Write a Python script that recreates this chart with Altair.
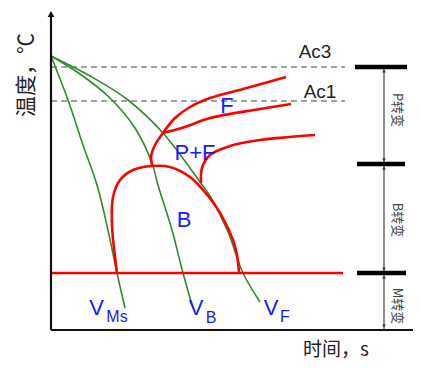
import altair as alt
import pandas as pd

# ---- data (time, temperature) in schematic plot units ----
# cooling curves
VMS_t = [51, 68, 83, 97, 108, 117, 125]
VMS_T = [313, 269, 224, 184, 139, 96, 61]
VB_t = [51, 80, 110, 135, 152, 158, 172, 183, 193]
VB_T = [313, 295, 271, 241, 206, 184, 139, 96, 61]
VF_t = [51, 90, 128, 163, 200, 210, 228, 243, 260]
VF_T = [313, 293, 269, 236, 187, 173, 137, 96, 67]

# transformation curves
FS_t = [163, 175, 190, 210, 243, 286]
FS_T = [236, 251, 262, 271, 280, 292]
FE_t = [163, 185, 210, 260, 291]
FE_T = [236, 242, 251, 260, 265]
JN_t = [163, 155, 151, 152]
JN_T = [236, 224, 212, 204]
B_t = [117, 115, 112, 113, 120, 133, 152, 170, 190, 203, 215, 225, 233, 237, 239]
B_T = [96, 112, 144, 172, 189, 199, 203, 202, 192, 179, 164, 147, 129, 114, 96]
P_t = [201, 202, 210, 230, 260, 290, 315]
P_T = [186, 201, 214, 223, 229, 232, 234]
MS_t = [51, 343]
MS_T = [96, 96]

AC3 = 302
AC1 = 268
AC_t = [51, 345]

# axes / brackets
AX_t0, AX_t1 = 51, 413
AX_T0, AX_T1 = 39, 353
BR_t = 384
BR_levels = [302, 205, 96]
BR_x0 = [355, 357, 357]
BR_x1 = [407, 405, 406]
BR_labels = ["P转变", "B转变", "M转变"]
BR_label_T = [259, 149, 63]

X = dict(scale=alt.Scale(domain=[8, 413], nice=False, zero=False), axis=None)
Y = dict(scale=alt.Scale(domain=[8, 361], nice=False, zero=False), axis=None)


def curve_df(name, ts, Ts):
    return pd.DataFrame({"t": ts, "T": Ts, "o": range(len(ts)), "c": name})


green = pd.concat([curve_df("VMs", VMS_t, VMS_T), curve_df("VB", VB_t, VB_T),
                   curve_df("VF", VF_t, VF_T)])
red = pd.concat([curve_df("FS", FS_t, FS_T), curve_df("FE", FE_t, FE_T),
                 curve_df("JN", JN_t, JN_T), curve_df("B", B_t, B_T),
                 curve_df("P", P_t, P_T)])
ms = curve_df("Ms", MS_t, MS_T)
dashed = pd.concat([curve_df("Ac3", AC_t, [AC3, AC3]), curve_df("Ac1", AC_t, [AC1, AC1])])

green_layer = alt.Chart(green).mark_line(color="#2e8b2e", strokeWidth=1.6,
                                         interpolate="catmull-rom").encode(
    x=alt.X("t:Q", **X), y=alt.Y("T:Q", **Y), detail="c:N", order="o:Q")
red_layer = alt.Chart(red).mark_line(color="#ff0000", strokeWidth=2.6,
                                     interpolate="catmull-rom").encode(
    x=alt.X("t:Q", **X), y=alt.Y("T:Q", **Y), detail="c:N", order="o:Q")
ms_layer = alt.Chart(ms).mark_line(color="#ff0000", strokeWidth=2.6).encode(
    x=alt.X("t:Q", **X), y=alt.Y("T:Q", **Y))
dash_layer = alt.Chart(dashed).mark_line(color="#444444", strokeWidth=1.2,
                                         strokeDash=[6, 4]).encode(
    x=alt.X("t:Q", **X), y=alt.Y("T:Q", **Y), detail="c:N")

# axes
yaxis = alt.Chart(pd.DataFrame({"t": [AX_t0], "T": [AX_T0], "T2": [AX_T1]})).mark_rule(
    color="#111111", strokeWidth=2.2).encode(x=alt.X("t:Q", **X), y=alt.Y("T:Q", **Y), y2="T2:Q")
xaxis = alt.Chart(pd.DataFrame({"t": [AX_t0], "t2": [AX_t1], "T": [AX_T0]})).mark_rule(
    color="#111111", strokeWidth=2.2).encode(x=alt.X("t:Q", **X), x2="t2:Q", y=alt.Y("T:Q", **Y))
arrow = alt.Chart(pd.DataFrame({"t": [AX_t0], "T": [AX_T1 + 2]})).mark_point(
    shape="triangle-up", filled=True, color="#111111", size=45, opacity=1).encode(
    x=alt.X("t:Q", **X), y=alt.Y("T:Q", **Y))

# right bracket
br_v = alt.Chart(pd.DataFrame({"t": [BR_t], "T": [BR_levels[0]], "T2": [AX_T0]})).mark_rule(
    color="#444444", strokeWidth=1.2).encode(x=alt.X("t:Q", **X), y=alt.Y("T:Q", **Y), y2="T2:Q")
br_h = alt.Chart(pd.DataFrame({"t": BR_x0, "t2": BR_x1, "T": BR_levels})).mark_rule(
    color="#000000", strokeWidth=4.5).encode(x=alt.X("t:Q", **X), x2="t2:Q", y=alt.Y("T:Q", **Y))
up_T = [BR_levels[0] - 4, BR_levels[1] - 4, BR_levels[2] - 4]
dn_T = [BR_levels[1] + 4, BR_levels[2] + 4, AX_T0 + 4]
br_up = alt.Chart(pd.DataFrame({"t": [BR_t] * 3, "T": up_T})).mark_point(
    shape="triangle-up", filled=True, color="#333333", size=14, opacity=1).encode(
    x=alt.X("t:Q", **X), y=alt.Y("T:Q", **Y))
br_dn = alt.Chart(pd.DataFrame({"t": [BR_t] * 3, "T": dn_T})).mark_point(
    shape="triangle-down", filled=True, color="#333333", size=14, opacity=1).encode(
    x=alt.X("t:Q", **X), y=alt.Y("T:Q", **Y))
br_text = alt.Chart(pd.DataFrame({"t": [397] * 3, "T": BR_label_T, "s": BR_labels})).mark_text(
    angle=90, fontSize=13, color="#444444", font="Noto Sans CJK SC").encode(
    x=alt.X("t:Q", **X), y=alt.Y("T:Q", **Y), text="s:N")

# labels
def text_layer(ts, Ts, labels, size, color, font="Liberation Sans", **kw):
    return alt.Chart(pd.DataFrame({"t": ts, "T": Ts, "s": labels})).mark_text(
        fontSize=size, color=color, font=font, **kw).encode(
        x=alt.X("t:Q", **X), y=alt.Y("T:Q", **Y), text="s:N")

BLUE = "#1a1aff"
big_blue = text_layer([227, 195, 184, 96.5, 196, 271], [263, 216, 149, 61, 61, 61],
                      ["F", "P+F", "B", "V", "V", "V"], 22, BLUE)
sub_blue = text_layer([117, 211, 285], [52, 51, 52], ["Ms", "B", "F"], 16, BLUE)
ac = text_layer([315, 320], [317, 277], ["Ac3", "Ac1"], 19, "#222222")
ytitle = text_layer([27], [294], ["温度，℃"], 21, "#222222", font="Noto Sans CJK SC", angle=270)
xtitle = text_layer([336], [19], ["时间，s"], 19, "#222222", font="Noto Sans CJK SC")

chart = alt.layer(
    dash_layer, green_layer, red_layer, ms_layer, yaxis, xaxis, arrow,
    br_v, br_h, br_up, br_dn, br_text, big_blue, sub_blue, ac, ytitle, xtitle
).properties(width=405, height=353, padding=0, autosize="none", background="white"
).configure_view(stroke=None)

chart.save("out.html", embed_options={"renderer": "svg", "actions": False})
